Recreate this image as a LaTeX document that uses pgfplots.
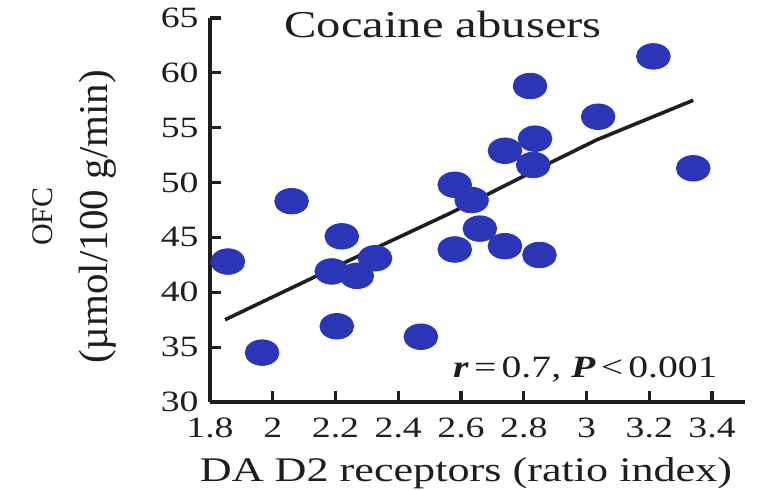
\documentclass[border=0pt]{standalone}
\usepackage{fontspec}
\setmainfont{Liberation Serif}[FakeStretch=1.28]
\newfontfamily\ylabfont{Liberation Serif}
\usepackage{pgfplots}
\pgfplotsset{compat=1.18}
\definecolor{dotblue}{RGB}{43,54,182}
\definecolor{ink}{RGB}{30,30,30}
\begin{document}
\begin{tikzpicture}
\path[use as bounding box] (-105pt,-44pt) rectangle (279.5pt,201pt);
\begin{axis}[
  at={(0,0)}, anchor=south west,
  scale only axis, width=267.5pt, height=192pt,
  xmin=1.8, xmax=3.505, ymin=30, ymax=65,
  axis x line=bottom, axis y line=left,
  axis line style={-, line width=1.9pt, ink},
  xtick={1.8,2.0,2.2,2.4,2.6,2.8,3.0,3.2,3.4},
  xticklabels={1.8,2,2.2,2.4,2.6,2.8,3,3.2,3.4},
  ytick={30,35,40,45,50,55,60,65},
  tick align=inside, major tick length=5.5pt,
  every tick/.style={ink, line width=1.6pt},
  tick label style={font=\fontsize{14.75}{17}\selectfont, text=ink},
  /pgf/number format/assume math mode=true,
  xticklabel style={anchor=base, yshift=-18pt},
  yticklabel style={anchor=east, inner sep=0pt, xshift=-5.5pt},
  xlabel={DA D2 receptors (ratio index)},
  xlabel style={at={(axis description cs:0.4785,-0.208)}, anchor=base, font=\fontsize{17.25}{20}\selectfont, text=ink},
  ylabel={(µmol/100 g/min)},
  ylabel style={at={(axis description cs:-0.1907,0.482)}, anchor=base, font=\ylabfont\fontsize{20.5}{24}\selectfont, text=ink},
  clip=false,
]
\addplot[only marks, mark=*, mark size=6.4pt, mark options={fill=dotblue, draw=dotblue, xscale=1.32}] coordinates {
(1.857,42.8) (1.966,34.5) (2.06,48.3) (2.22,45.1) (2.188,41.9) (2.204,36.9)
(2.268,41.5) (2.326,43.1) (2.472,35.95) (2.58,49.8) (2.634,48.4) (2.66,45.8)
(2.58,43.9) (2.74,44.2) (2.85,43.4) (2.83,51.6) (2.836,54.0) (2.74,52.9)
(2.82,58.8) (3.037,56.0) (3.213,61.5) (3.34,51.3)
};
\addplot[ink, line width=1.8pt] coordinates {
(1.848,37.5) (2.236,42.8) (2.565,47.2) (2.884,51.8) (3.033,53.9) (3.34,57.5)
};
\node[anchor=base, inner sep=0pt, text=ink] at (axis description cs:0.4355,0.948) {\fontsize{19}{22}\selectfont Cocaine abusers};
\node[rotate=90, anchor=base, text=ink] at (axis description cs:-0.2935,0.483) {\ylabfont\fontsize{15}{17}\selectfont OFC};
\node[anchor=base east, inner sep=0pt, text=ink] at (axis description cs:0.9495,0.065) {\fontsize{15.5}{18}\selectfont\textbf{\textit{r}}\,=\,0.7, \textbf{\textit{P}}\,<\,0.001};
\end{axis}
\end{tikzpicture}
\end{document}
